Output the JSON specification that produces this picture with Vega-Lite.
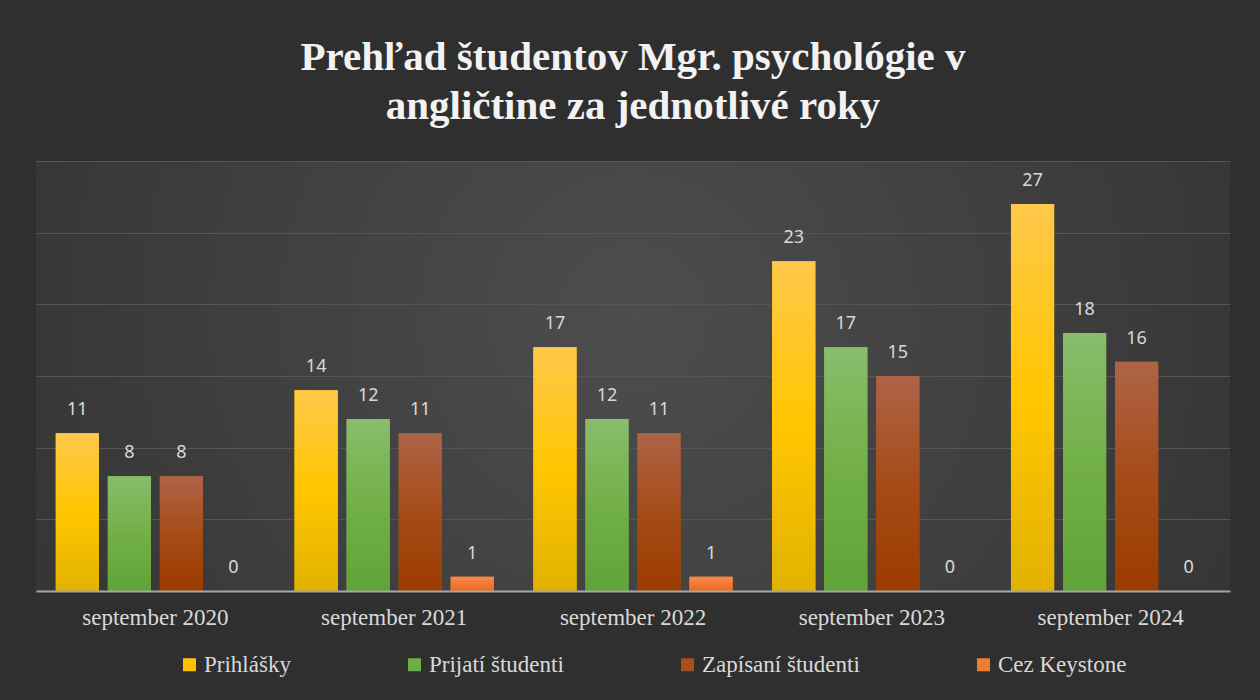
{
  "$schema": "https://vega.github.io/schema/vega-lite/v6.json",
  "width": 1194,
  "height": 430,
  "padding": {"left": 36, "top": 37, "right": 30, "bottom": 30},
  "background": "#2f2f2f",
  "title": {
    "text": ["Prehľad študentov Mgr. psychológie v", "angličtine za jednotlivé roky"],
    "font": "Liberation Serif",
    "fontSize": 41,
    "fontWeight": "bold",
    "color": "#f2f2f2",
    "lineHeight": 49,
    "anchor": "middle",
    "offset": 33
  },
  "data": {
    "values": [
      {"rok": "september 2020", "seria": "Prihlášky", "pocet": 11},
      {"rok": "september 2020", "seria": "Prijatí študenti", "pocet": 8},
      {"rok": "september 2020", "seria": "Zapísaní študenti", "pocet": 8},
      {"rok": "september 2020", "seria": "Cez Keystone", "pocet": 0},
      {"rok": "september 2021", "seria": "Prihlášky", "pocet": 14},
      {"rok": "september 2021", "seria": "Prijatí študenti", "pocet": 12},
      {"rok": "september 2021", "seria": "Zapísaní študenti", "pocet": 11},
      {"rok": "september 2021", "seria": "Cez Keystone", "pocet": 1},
      {"rok": "september 2022", "seria": "Prihlášky", "pocet": 17},
      {"rok": "september 2022", "seria": "Prijatí študenti", "pocet": 12},
      {"rok": "september 2022", "seria": "Zapísaní študenti", "pocet": 11},
      {"rok": "september 2022", "seria": "Cez Keystone", "pocet": 1},
      {"rok": "september 2023", "seria": "Prihlášky", "pocet": 23},
      {"rok": "september 2023", "seria": "Prijatí študenti", "pocet": 17},
      {"rok": "september 2023", "seria": "Zapísaní študenti", "pocet": 15},
      {"rok": "september 2023", "seria": "Cez Keystone", "pocet": 0},
      {"rok": "september 2024", "seria": "Prihlášky", "pocet": 27},
      {"rok": "september 2024", "seria": "Prijatí študenti", "pocet": 18},
      {"rok": "september 2024", "seria": "Zapísaní študenti", "pocet": 16},
      {"rok": "september 2024", "seria": "Cez Keystone", "pocet": 0}
    ]
  },
  "config": {
    "view": {
      "stroke": null,
      "fill": {
        "gradient": "radial",
        "x1": 0.5, "y1": 0.45, "r1": 0,
        "x2": 0.5, "y2": 0.45, "r2": 0.7,
        "stops": [
          {"offset": 0, "color": "#4d4d4d"},
          {"offset": 1, "color": "#2f2f2f"}
        ]
      }
    }
  },
  "encoding": {
    "x": {
      "field": "rok",
      "type": "nominal",
      "sort": null,
      "scale": {"paddingInner": 0, "paddingOuter": 0},
      "axis": {
        "title": null,
        "labelAngle": 0,
        "domain": true,
        "domainColor": "#a6a6a6",
        "domainWidth": 2,
        "ticks": false,
        "labelFont": "Liberation Serif",
        "labelFontSize": 23,
        "labelColor": "#d9d9d9",
        "labelPadding": 15,
        "zindex": 1
      }
    },
    "xOffset": {
      "field": "seria",
      "type": "nominal",
      "sort": ["Prihlášky", "Prijatí študenti", "Zapísaní študenti", "Cez Keystone"],
      "scale": {"paddingInner": 0.17, "paddingOuter": 0.38}
    },
    "y": {
      "field": "pocet",
      "type": "quantitative",
      "scale": {"domain": [0, 30]},
      "axis": {
        "title": null,
        "labels": false,
        "ticks": false,
        "domain": false,
        "gridColor": "#555555",
        "gridWidth": 1.2,
        "values": [0, 5, 10, 15, 20, 25, 30]
      }
    }
  },
  "layer": [
    {
      "mark": {"type": "bar"},
      "encoding": {
        "color": {
          "field": "seria",
          "type": "nominal",
          "sort": ["Prihlášky", "Prijatí študenti", "Zapísaní študenti", "Cez Keystone"],
          "scale": {
            "domain": ["Prihlášky", "Prijatí študenti", "Zapísaní študenti", "Cez Keystone"],
            "range": ["#ffc000", "#70ad47", "#a5501e", "#ed7d31"]
          },
          "legend": {
            "title": null,
            "orient": "none",
            "legendX": 142,
            "legendY": 492,
            "direction": "horizontal",
            "symbolType": "square",
            "symbolSize": 170,
            "symbolStrokeWidth": 0,
            "labelFont": "Liberation Serif",
            "labelFontSize": 23,
            "labelLimit": 400,
            "labelColor": "#d9d9d9",
            "columnPadding": 112,
            "labelOffset": 3
          }
        }
      }
    },
    {
      "mark": {"type": "bar"},
      "encoding": {
        "fill": {
          "condition": [
            {
              "test": "datum.seria == 'Prihlášky'",
              "value": {
                "gradient": "linear", "x1": 0, "y1": 0, "x2": 0, "y2": 1,
                "stops": [
                  {"offset": 0, "color": "#ffc84a"},
                  {"offset": 0.5, "color": "#ffc600"},
                  {"offset": 1, "color": "#e2b200"}
                ]
              }
            },
            {
              "test": "datum.seria == 'Prijatí študenti'",
              "value": {
                "gradient": "linear", "x1": 0, "y1": 0, "x2": 0, "y2": 1,
                "stops": [
                  {"offset": 0, "color": "#88bd6c"},
                  {"offset": 0.5, "color": "#72b047"},
                  {"offset": 1, "color": "#61a336"}
                ]
              }
            },
            {
              "test": "datum.seria == 'Zapísaní študenti'",
              "value": {
                "gradient": "linear", "x1": 0, "y1": 0, "x2": 0, "y2": 1,
                "stops": [
                  {"offset": 0, "color": "#ae6448"},
                  {"offset": 0.5, "color": "#a64b18"},
                  {"offset": 1, "color": "#9b3c00"}
                ]
              }
            }
          ],
          "value": {
            "gradient": "linear", "x1": 0, "y1": 0, "x2": 0, "y2": 1,
            "stops": [
              {"offset": 0, "color": "#f8894a"},
              {"offset": 1, "color": "#ec6a1e"}
            ]
          }
        }
      }
    },
    {
      "mark": {
        "type": "text",
        "baseline": "alphabetic",
        "dy": -18,
        "font": "Noto Sans",
        "fontSize": 18,
        "color": "#d9d9d9"
      },
      "encoding": {
        "text": {"field": "pocet", "type": "quantitative"}
      }
    }
  ]
}
